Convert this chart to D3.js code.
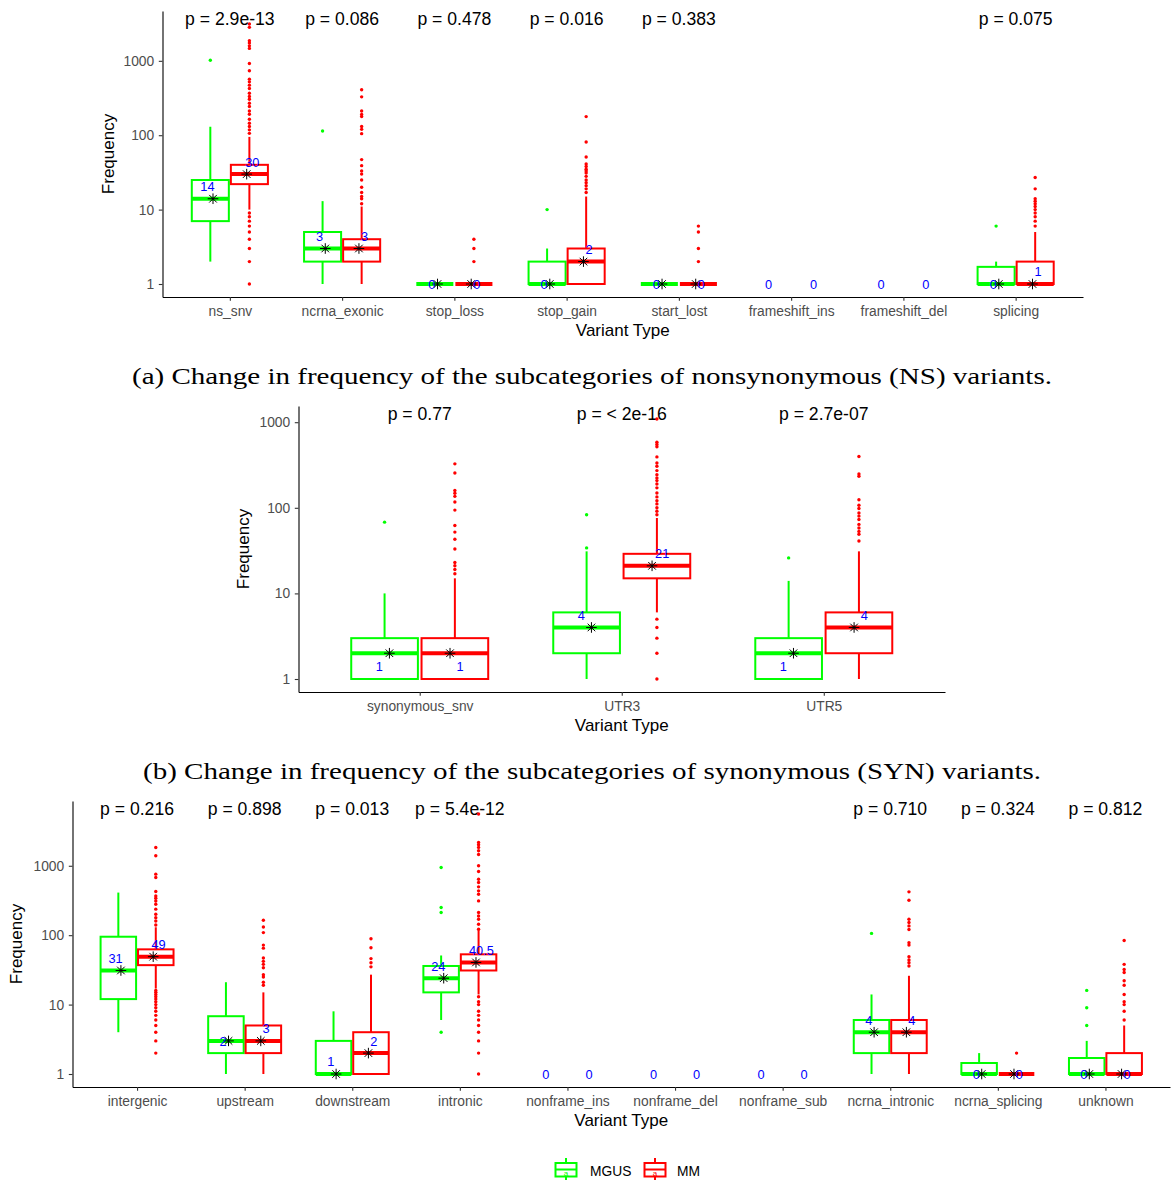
<!DOCTYPE html>
<html>
<head>
<meta charset="utf-8">
<script src="https://cdn.jsdelivr.net/npm/d3@7"></script>
<style>
  body { margin: 0; background: #fff; }
  svg { display: block; }
</style>
</head>
<body>
<script>
// ---------- (a) nonsynonymous subcategories ----------
const nsCategories = ["ns_snv", "ncrna_exonic", "stop_loss", "stop_gain", "start_lost", "frameshift_ins", "frameshift_del", "splicing"];
const nsPValues = ["p = 2.9e-13", "p = 0.086", "p = 0.478", "p = 0.016", "p = 0.383", "", "", "p = 0.075"];
// box statistics: [lower whisker, Q1, median, Q3, upper whisker]
const nsMgusStats = [[2, 7, 14, 25, 130], [1, 2, 3, 5, 13], [1, 1, 1, 1, 1], [1, 1, 1, 2, 3], [1, 1, 1, 1, 1], null, null, [1, 1, 1, 1.7, 2]];
const nsMmStats = [[10, 22, 30, 40, 95], [1, 2, 3, 4, 11], [1, 1, 1, 1, 1], [1, 1, 2, 3, 15], [1, 1, 1, 1, 1], null, null, [1, 1, 1, 2, 5]];
const nsMgusOutliers = [[1020], [114], [], [10], [], [], [], [6]];
const nsMmOutliers = [
  [3126, 2820, 1860, 1740, 1590, 1470, 922, 735, 567, 522, 471, 425, 367, 331, 305, 269, 243, 212, 191, 164, 145, 131, 118, 106, 9, 8, 7, 6, 5, 4, 3, 2, 1],
  [408, 328, 212, 190, 178, 131, 120, 105, 47, 39, 33, 30, 25, 20, 17, 15, 14, 12],
  [4, 3, 2],
  [178, 81, 51, 41, 38, 35, 33, 31, 28, 25, 23, 21, 19, 17],
  [6, 5, 3, 2],
  [], [],
  [27, 19, 14, 13, 12, 11, 10, 9, 8, 7, 6]
];
const nsMgusLabels = [14, 3, 0, 0, 0, 0, 0, 0];
const nsMmLabels = [30, 3, 0, 2, 0, 0, 0, 1];

// ---------- (b) synonymous subcategories ----------
const synCategories = ["synonymous_snv", "UTR3", "UTR5"];
const synPValues = ["p = 0.77", "p = < 2e-16", "p = 2.7e-07"];
const synMgusStats = [[1, 1, 2, 3, 10], [1, 2, 4, 6, 31], [1, 1, 2, 3, 14]];
const synMmStats = [[1, 1, 2, 3, 15], [6, 15, 21, 29, 76], [1, 2, 4, 6, 31]];
const synMgusOutliers = [[68], [34, 83], [26]];
const synMmOutliers = [
  [326, 255, 159, 148, 136, 117, 94, 62, 52, 43, 33, 23, 21, 19, 17],
  [1090, 583, 548, 516, 393, 334, 306, 272, 244, 223, 208, 190, 171, 149, 134, 121, 111, 100, 91, 83, 5, 4, 3, 2, 1],
  [397, 249, 234, 124, 107, 98, 87, 80, 73, 64, 58, 53, 49, 41]
];
const synMgusLabels = [1, 4, 1];
const synMmLabels = [1, 21, 4];

// ---------- (c) other variant types ----------
const otherCategories = ["intergenic", "upstream", "downstream", "intronic", "nonframe_ins", "nonframe_del", "nonframe_sub", "ncrna_intronic", "ncrna_splicing", "unknown"];
const otherPValues = ["p = 0.216", "p = 0.898", "p = 0.013", "p = 5.4e-12", "", "", "", "p = 0.710", "p = 0.324", "p = 0.812"];
const otherMgusStats = [[4, 12, 31, 95, 411], [1, 2, 3, 6.8, 21], [1, 1, 1, 3, 8], [6, 15, 24, 36, 51], null, null, null, [1, 2, 4, 6, 14], [1, 1, 1, 1.44, 2], [1, 1, 1, 1.7, 3]];
const otherMmStats = [[17, 37, 49, 62.5, 130], [1, 2, 3, 5, 15], [1, 1, 2, 4, 27], [14, 31, 40.5, 53, 118], null, null, null, [1, 2, 4, 6, 26], [1, 1, 1, 1, 1], [1, 1, 1, 2, 5]];
const otherMgusOutliers = [[], [], [], [945, 250, 212, 4], [], [], [], [106], [], [5, 9, 16]];
const otherMmOutliers = [
  [1837, 1393, 757, 678, 426, 368, 341, 310, 279, 237, 200, 179, 160, 140, 16, 15, 14, 13, 12, 11, 10, 9, 8, 7, 6, 5, 4, 3, 2],
  [164, 131, 109, 72, 65, 47, 42, 38, 34, 27, 25, 21, 19],
  [89, 66, 46, 40, 35],
  [5570, 2170, 2010, 1840, 1645, 1454, 1000, 828, 641, 574, 497, 435, 389, 312, 212, 189, 170, 144, 122, 13, 11, 10, 8, 7, 6, 5, 4, 3, 2, 1],
  [], [], [],
  [421, 319, 170, 152, 136, 121, 78, 72, 49, 44, 40, 36],
  [2],
  [84, 38, 32, 29, 22, 19, 14, 11, 10, 8, 6]
];
const otherMgusLabels = [31, 2, 1, 24, 0, 0, 0, 4, 0, 0];
const otherMmLabels = [49, 3, 2, 40.5, 0, 0, 0, 4, 0, 0];

const groupNames = ["MGUS", "MM"];
const yTicks = [1, 10, 100, 1000];

// ---------- drawing ----------
const W = 1171, H = 1180;
const SANS = "'Liberation Sans', Arial, Helvetica, sans-serif";
const SERIF = "'Liberation Serif', 'Times New Roman', serif";
const GREEN = "#00FF00", RED = "#FF0000", BLUE = "#0000FF";

const svg = d3.select("body").append("svg")
  .attr("width", W).attr("height", H)
  .attr("viewBox", `0 0 ${W} ${H}`);

const star = "M-5.3,0H5.3M0,-5.3V5.3M-3.8,-3.8L3.8,3.8M-3.8,3.8L3.8,-3.8";

function drawPanel(p) {
  const g = svg.append("g");
  const groups = [
    { stats: p.mgusStats, out: p.mgusOut, labels: p.mgusLabels, color: GREEN, side: -1 },
    { stats: p.mmStats, out: p.mmOut, labels: p.mmLabels, color: RED, side: 1 }
  ];

  // log scale with 5% expansion on the log range
  const values = [];
  groups.forEach(gr => {
    gr.stats.forEach(s => { if (s) values.push(...s); });
    gr.out.forEach(o => values.push(...o));
  });
  const R = Math.log10(d3.max(values));
  const y = d3.scaleLog()
    .domain([Math.pow(10, -0.05 * R), Math.pow(10, 1.05 * R)])
    .range([p.bottom, p.top]);
  const x = d3.scalePoint().domain(p.cats).range([p.left, p.right]).padding(0.6);
  const step = x.step();

  // axes
  const ya = g.append("g").attr("transform", `translate(${p.left},0)`)
    .call(d3.axisLeft(y).tickValues(yTicks).tickFormat(d3.format("d"))
      .tickSize(3.7).tickSizeOuter(0).tickPadding(4.6));
  const xa = g.append("g").attr("transform", `translate(0,${p.bottom})`)
    .call(d3.axisBottom(x).tickSize(3.7).tickSizeOuter(0).tickPadding(6));
  [ya, xa].forEach(a => {
    a.select(".domain").attr("stroke", "#000").attr("stroke-width", 1.1);
    a.selectAll(".tick line").attr("stroke", "#333").attr("stroke-width", 1.1);
    a.selectAll(".tick text").attr("fill", "#4D4D4D")
      .attr("font-family", SANS).attr("font-size", 13.8);
  });

  // axis titles
  g.append("text")
    .attr("x", (p.left + p.right) / 2).attr("y", p.bottom + 38.5)
    .attr("text-anchor", "middle").attr("font-family", SANS).attr("font-size", 17)
    .text("Variant Type");
  g.append("text")
    .attr("transform", `translate(${p.yTitleX},${(p.top + p.bottom) / 2}) rotate(-90)`)
    .attr("text-anchor", "middle").attr("font-family", SANS).attr("font-size", 17)
    .text("Frequency");

  // p-values
  g.append("g").selectAll("text").data(p.cats).join("text")
    .attr("x", c => x(c)).attr("y", p.top + 14)
    .attr("text-anchor", "middle").attr("font-family", SANS).attr("font-size", 17.6)
    .attr("fill", "#000")
    .text((c, i) => p.pvals[i]);

  // boxplots
  const boxW = 0.33 * step;
  groups.forEach(gr => {
    p.cats.forEach((c, i) => {
      const s = gr.stats[i];
      if (!s) return;
      const [lo, q1, med, q3, hi] = s;
      const cx = x(c) + gr.side * 0.174 * step;
      const bg = g.append("g");
      bg.append("line").attr("x1", cx).attr("x2", cx).attr("y1", y(q3)).attr("y2", y(hi))
        .attr("stroke", gr.color).attr("stroke-width", 2);
      bg.append("line").attr("x1", cx).attr("x2", cx).attr("y1", y(q1)).attr("y2", y(lo))
        .attr("stroke", gr.color).attr("stroke-width", 2);
      bg.append("rect").attr("x", cx - boxW / 2).attr("width", boxW)
        .attr("y", y(q3)).attr("height", y(q1) - y(q3))
        .attr("fill", "#fff").attr("stroke", gr.color).attr("stroke-width", 2);
      bg.append("line").attr("x1", cx - boxW / 2).attr("x2", cx + boxW / 2)
        .attr("y1", y(med)).attr("y2", y(med))
        .attr("stroke", gr.color).attr("stroke-width", 4);
      bg.selectAll("circle").data(gr.out[i]).join("circle")
        .attr("cx", cx).attr("cy", d => y(d)).attr("r", 1.7).attr("fill", gr.color);
    });
  });

  // median markers
  groups.forEach(gr => {
    p.cats.forEach((c, i) => {
      const s = gr.stats[i];
      if (!s) return;
      g.append("path")
        .attr("transform", `translate(${x(c) + gr.side * 0.15 * step},${y(s[2])})`)
        .attr("d", star).attr("stroke", "#000").attr("stroke-width", 1).attr("fill", "none");
    });
  });

  // value labels
  groups.forEach(gr => {
    g.append("g").selectAll("text").data(p.cats).join("text")
      .attr("x", c => x(c) + gr.side * 0.2 * step)
      .attr("y", (c, i) => (gr.labels[i] > 0 ? y(gr.labels[i]) : p.bottom) - 12)
      .attr("dy", "0.35em")
      .attr("text-anchor", "middle").attr("font-family", SANS).attr("font-size", 12.8)
      .attr("fill", BLUE)
      .text((c, i) => gr.labels[i]);
  });
}

drawPanel({
  cats: nsCategories, pvals: nsPValues,
  mgusStats: nsMgusStats, mmStats: nsMmStats,
  mgusOut: nsMgusOutliers, mmOut: nsMmOutliers,
  mgusLabels: nsMgusLabels, mmLabels: nsMmLabels,
  left: 162.5, right: 1083, top: 11, bottom: 297, yTitleX: 114
});
drawPanel({
  cats: synCategories, pvals: synPValues,
  mgusStats: synMgusStats, mmStats: synMmStats,
  mgusOut: synMgusOutliers, mmOut: synMmOutliers,
  mgusLabels: synMgusLabels, mmLabels: synMmLabels,
  left: 298.5, right: 945, top: 406, bottom: 692, yTitleX: 249
});
drawPanel({
  cats: otherCategories, pvals: otherPValues,
  mgusStats: otherMgusStats, mmStats: otherMmStats,
  mgusOut: otherMgusOutliers, mmOut: otherMmOutliers,
  mgusLabels: otherMgusLabels, mmLabels: otherMmLabels,
  left: 72.5, right: 1170, top: 801, bottom: 1087, yTitleX: 22
});

// sub-figure captions
svg.append("text").attr("x", 592).attr("y", 383.5)
  .attr("text-anchor", "middle").attr("font-family", SERIF).attr("font-size", 24)
  .attr("textLength", 920).attr("lengthAdjust", "spacingAndGlyphs")
  .text("(a) Change in frequency of the subcategories of nonsynonymous (NS) variants.");
svg.append("text").attr("x", 592).attr("y", 778.5)
  .attr("text-anchor", "middle").attr("font-family", SERIF).attr("font-size", 24)
  .attr("textLength", 898).attr("lengthAdjust", "spacingAndGlyphs")
  .text("(b) Change in frequency of the subcategories of synonymous (SYN) variants.");

// legend
const legend = svg.append("g");
const legendKeys = [{ x: 555, color: GREEN, tx: 590 }, { x: 644, color: RED, tx: 677 }];
legendKeys.forEach((k, i) => {
  const kg = legend.append("g").attr("transform", `translate(${k.x},1158)`);
  kg.append("line").attr("x1", 11).attr("x2", 11).attr("y1", 0).attr("y2", 22)
    .attr("stroke", k.color).attr("stroke-width", 2);
  kg.append("rect").attr("x", 0.5).attr("y", 5).attr("width", 21).attr("height", 13.5)
    .attr("fill", "#fff").attr("stroke", k.color).attr("stroke-width", 2);
  kg.append("line").attr("x1", 0.5).attr("x2", 21.5).attr("y1", 11.5).attr("y2", 11.5)
    .attr("stroke", k.color).attr("stroke-width", 2);
  kg.append("text").attr("x", 11).attr("y", 17.5).attr("text-anchor", "middle")
    .attr("font-family", SANS).attr("font-size", 8).attr("fill", k.color).text("a");
  legend.append("text").attr("x", k.tx).attr("y", 1176)
    .attr("font-family", SANS).attr("font-size", 13.8).attr("fill", "#000")
    .text(groupNames[i]);
});
</script>
</body>
</html>
